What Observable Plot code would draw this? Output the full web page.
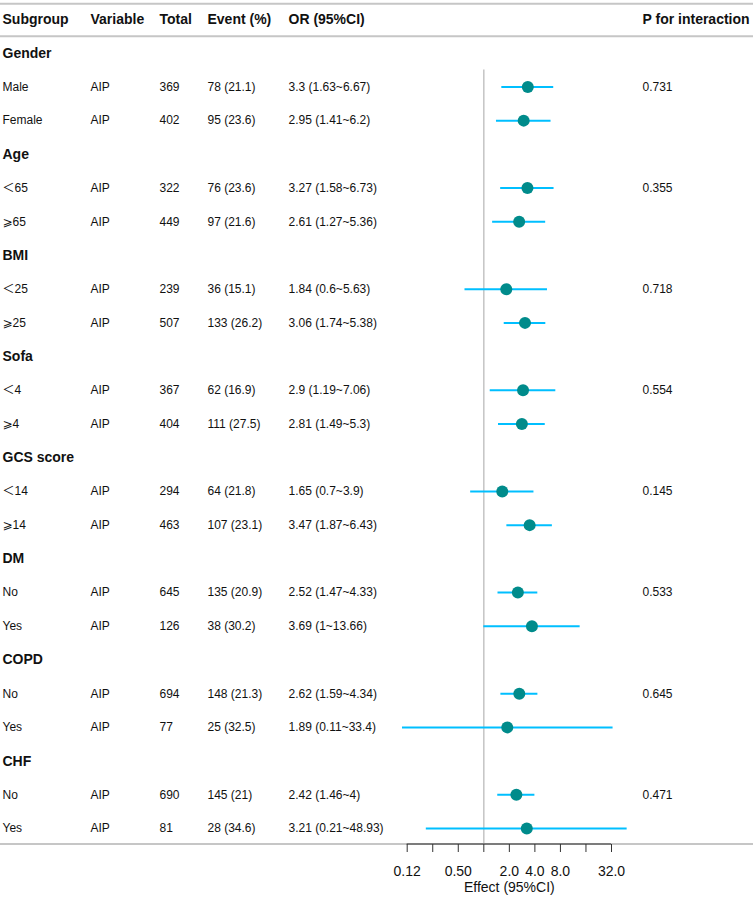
<!DOCTYPE html>
<html>
<head>
<meta charset="utf-8">
<script src="https://cdn.jsdelivr.net/npm/d3@7"></script>
<script src="https://cdn.jsdelivr.net/npm/@observablehq/plot@0.6"></script>
<style>
  body { margin: 0; background: #fff; }
  #chart { display: flex; width: 753px; }
  #chart svg { display: block; overflow: visible; }
</style>
</head>
<body>
<div id="chart"></div>
<script>
// ---------- data ----------
const headers = ["Subgroup", "Variable", "Total", "Event (%)", "OR (95%CI)", "P for interaction"];
const groups = ["Gender", "Age", "BMI", "Sofa", "GCS score", "DM", "COPD", "CHF"];
const subgroupLabels = ["Male", "Female", "＜65", "⩾65", "＜25", "⩾25", "＜4", "⩾4",
                        "＜14", "⩾14", "No", "Yes", "No", "Yes", "No", "Yes"];
const variableName = "AIP";
const totals   = [369, 402, 322, 449, 239, 507, 367, 404, 294, 463, 645, 126, 694, 77, 690, 81];
const events   = [78, 95, 76, 97, 36, 133, 62, 111, 64, 107, 135, 38, 148, 25, 145, 28];
const eventPct = [21.1, 23.6, 23.6, 21.6, 15.1, 26.2, 16.9, 27.5, 21.8, 23.1, 20.9, 30.2, 21.3, 32.5, 21, 34.6];
const oddsRatio = [3.3, 2.95, 3.27, 2.61, 1.84, 3.06, 2.9, 2.81, 1.65, 3.47, 2.52, 3.69, 2.62, 1.89, 2.42, 3.21];
const ciLower   = [1.63, 1.41, 1.58, 1.27, 0.6, 1.74, 1.19, 1.49, 0.7, 1.87, 1.47, 1, 1.59, 0.11, 1.46, 0.21];
const ciUpper   = [6.67, 6.2, 6.73, 5.36, 5.63, 5.38, 7.06, 5.3, 3.9, 6.43, 4.33, 13.66, 4.34, 33.4, 4, 48.93];
const pInteraction = ["0.731", "0.355", "0.718", "0.554", "0.145", "0.533", "0.645", "0.471"];
const tickValues = [0.125, 0.25, 0.5, 1, 2, 4, 8, 16, 32];
const tickLabels = ["0.12", "", "0.50", "", "2.0", "4.0", "8.0", "", "32.0"];
const axisTitle = "Effect (95%CI)";
const referenceValue = 1;

// ---------- table built from the arrays ----------
const nRows = 1 + groups.length * 3;             // header + (group + 2 subgroups) * 8
const headerRow = [{row: 0}];
const groupRows = groups.map((g, i) => ({row: 1 + 3 * i, text: g}));
const subRows = subgroupLabels.map((s, j) => ({
  row: 2 + 3 * Math.floor(j / 2) + (j % 2),
  sub: s,
  variable: variableName,
  total: String(totals[j]),
  event: `${events[j]} (${eventPct[j]})`,
  orText: `${oddsRatio[j]} (${ciLower[j]}~${ciUpper[j]})`,
  or: oddsRatio[j], lo: ciLower[j], hi: ciUpper[j]
}));
const pRows = pInteraction.map((p, i) => ({row: 2 + 3 * i, text: p}));
const separators = [-0.47, 0.5, nRows - 0.54];   // top line, header line, bottom line

// ---------- layout & style ----------
const H = 897;
const yScale = {domain: [0, nRows - 1], range: [19, 828], axis: null};
const font = "'Liberation Sans', Arial, Helvetica, 'DejaVu Sans', 'Noto Sans CJK SC', sans-serif";
const ink = "#111";
const lineGray = "#c6c6c6";
const sepMark = (opts = {}) => Plot.ruleY(separators, {stroke: lineGray, strokeWidth: 2, ...opts});
const boldText = (data, text, opts = {}) =>
  Plot.text(data, {y: "row", text, frameAnchor: "left", textAnchor: "start",
                   fontSize: 14, fontWeight: "bold", fill: ink, ...opts});
const plainText = (data, text, opts = {}) =>
  Plot.text(data, {y: "row", text, frameAnchor: "left", textAnchor: "start",
                   fontSize: 12, fill: ink, ...opts});

function column(width, marks) {
  return Plot.plot({
    width, height: H, margin: 0,
    y: yScale,
    style: {fontFamily: font, background: "transparent"},
    marks: [sepMark(), ...marks]
  });
}

const container = document.getElementById("chart");

// Subgroup column
container.append(column(90, [
  boldText(headerRow, () => headers[0], {dx: 2}),
  boldText(groupRows, "text", {dx: 2}),
  plainText(subRows, "sub", {dx: 2})
]));
// Variable
container.append(column(69, [
  boldText(headerRow, () => headers[1]),
  plainText(subRows, "variable")
]));
// Total
container.append(column(48, [
  boldText(headerRow, () => headers[2]),
  plainText(subRows, "total")
]));
// Event (%)
container.append(column(81, [
  boldText(headerRow, () => headers[3]),
  plainText(subRows, "event")
]));
// OR (95%CI)
container.append(column(102, [
  boldText(headerRow, () => headers[4]),
  plainText(subRows, "orText")
]));

// Forest plot
const mL = 16.7, mR = 31;
container.append(Plot.plot({
  width: 252, height: H,
  marginLeft: mL, marginRight: mR, marginTop: 0, marginBottom: 53,
  x: {type: "log", base: 2, domain: [d3.min(tickValues), d3.max(tickValues)]},
  y: yScale,
  style: {fontFamily: font, fontSize: "14px", background: "transparent", color: ink},
  marks: [
    sepMark({insetLeft: -mL, insetRight: -mR}),
    Plot.ruleX([referenceValue], {y1: 1.5, y2: separators[2], stroke: "#c4c4c4", strokeWidth: 1.5}),
    Plot.ruleY(subRows, {y: "row", x1: "lo", x2: "hi", stroke: "#00bfff", strokeWidth: 2}),
    Plot.dot(subRows, {x: "or", y: "row", r: 6, fill: "#008b8b", stroke: "none"}),
    Plot.ruleY([separators[2]], {x1: d3.min(tickValues), x2: d3.max(tickValues), stroke: "#333", strokeWidth: 1}),
    Plot.axisX(tickValues, {
      tickSize: 8, tickPadding: 14, stroke: "#333",
      tickFormat: (d) => tickLabels[tickValues.indexOf(d)],
      fontSize: 14, fill: ink,
      label: axisTitle, labelAnchor: "center", labelArrow: "none", labelOffset: 47
    })
  ]
}));

// P for interaction
container.append(column(111, [
  boldText(headerRow, () => headers[5]),
  plainText(pRows, "text")
]));
</script>
</body>
</html>
